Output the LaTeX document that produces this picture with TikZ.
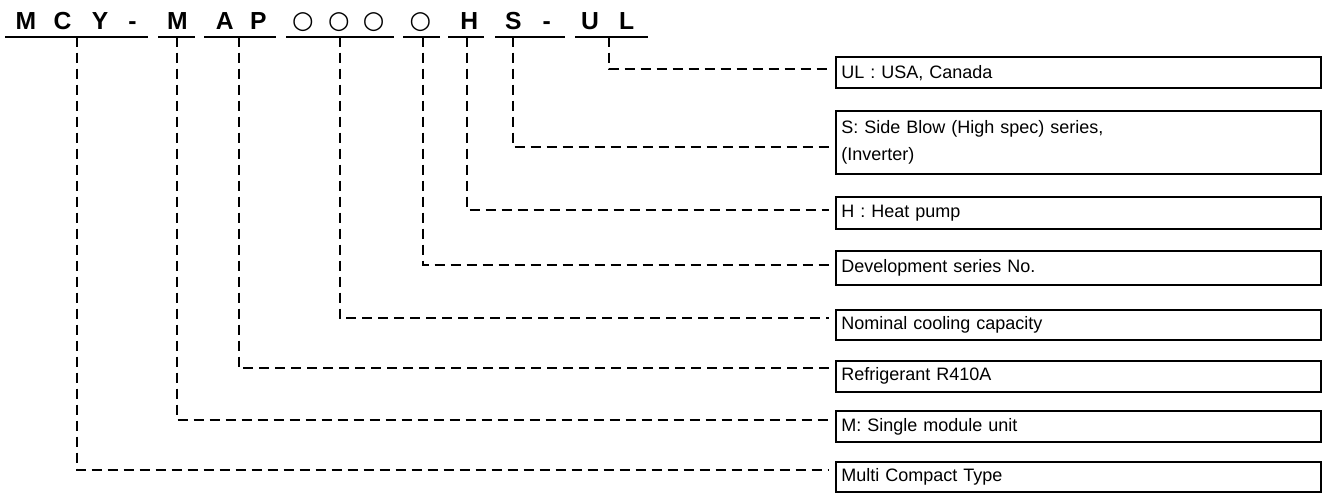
\documentclass[tikz,border=0pt]{standalone}
\usepackage{fontspec}
\setmainfont{Liberation Sans}
\newfontfamily\symfont{DejaVu Sans}
\begin{document}
\begin{tikzpicture}[x=0.75pt,y=-0.75pt,
  ttl/.style={font=\bfseries\fontsize{18.5}{18.5}\selectfont, inner sep=0pt, anchor=base},
  circ/.style={font=\symfont\fontsize{18.5}{18.5}\selectfont, inner sep=0pt},
  uline/.style={line width=1.5pt},
  dline/.style={line width=1.5pt, dash pattern=on 7.5pt off 4.5pt},
  box/.style={draw, line width=1.5pt, minimum width=363.75pt, text width=355.75pt,
    inner xsep=4pt, inner ysep=0pt, align=left, anchor=west,
    font=\fontsize{13.5}{20}\selectfont}]
\useasboundingbox (0,0) rectangle (1326,495);

% title characters
\node[ttl] (l1) at (25.8,29.3) {M};
\node[ttl] (l2) at (62.5,29.3) {C};
\node[ttl] (l3) at (100,29.3) {Y};
\node[ttl] (l4) at (132.5,29.3) {-};
\node[ttl] (l5) at (177.5,29.3) {M};
\node[ttl] (l6) at (224.7,29.3) {A};
\node[ttl] (l7) at (258.3,29.3) {P};
\node[circ] (c1) at (303,22.2) {○};
\node[circ] (c2) at (339,22.2) {○};
\node[circ] (c3) at (373.7,22.2) {○};
\node[circ] (c4) at (420.3,22.2) {○};
\node[ttl] (l8) at (469.2,29.3) {H};
\node[ttl] (l9) at (513.3,29.3) {S};
\node[ttl] (l10) at (546.7,29.3) {-};
\node[ttl] (l11) at (590,29.3) {U};
\node[ttl] (l12) at (626.7,29.3) {L};

% underlines
\draw[uline] (5,36.7) -- (148,36.7);
\draw[uline] (158,36.7) -- (195,36.7);
\draw[uline] (204,36.7) -- (276,36.7);
\draw[uline] (286,36.7) -- (394,36.7);
\draw[uline] (403,36.7) -- (440,36.7);
\draw[uline] (448,36.7) -- (484,36.7);
\draw[uline] (495,36.7) -- (565,36.7);
\draw[uline] (575,36.7) -- (648,36.7);

% start points on underlines
\coordinate (s1) at (77,36.7);
\coordinate (s2) at (177,36.7);
\coordinate (s3) at (239,36.7);
\coordinate (s4) at (340,36.7);
\coordinate (s5) at (423,36.7);
\coordinate (s6) at (467,36.7);
\coordinate (s7) at (513,36.7);
\coordinate (s8) at (609,36.7);

% boxes
\node[box, minimum height=22.9pt] (bUL) at (835,72.75) {UL : USA, Canada};
\node[box, minimum height=47.25pt] (bS) at (835,142.5) {S: Side Blow (High spec) series,\\(Inverter)};
\node[box, minimum height=24pt] (bH) at (835,213) {H : Heat pump};
\node[box, minimum height=25.5pt] (bDev) at (835,268) {Development series No.};
\node[box, minimum height=22.9pt] (bNom) at (835,325) {Nominal cooling capacity};
\node[box, minimum height=23.25pt] (bR) at (835,376) {Refrigerant R410A};
\node[box, minimum height=23.25pt] (bM) at (835,426.5) {M: Single module unit};
\node[box, minimum height=23pt] (bMulti) at (835,477) {Multi Compact Type};

% end points beside boxes
\coordinate (e8) at (829,69);
\coordinate (e7) at (829,147);
\coordinate (e6) at (829,210);
\coordinate (e5) at (829,265);
\coordinate (e4) at (829,318.3);
\coordinate (e3) at (829,368.3);
\coordinate (e2) at (829,420);
\coordinate (e1) at (829,470);

% connectors
\draw[dline] (s8) |- (e8);
\draw[dline] (s7) |- (e7);
\draw[dline] (s6) |- (e6);
\draw[dline] (s5) |- (e5);
\draw[dline] (s4) |- (e4);
\draw[dline] (s3) |- (e3);
\draw[dline] (s2) |- (e2);
\draw[dline] (s1) |- (e1);
\end{tikzpicture}
\end{document}
